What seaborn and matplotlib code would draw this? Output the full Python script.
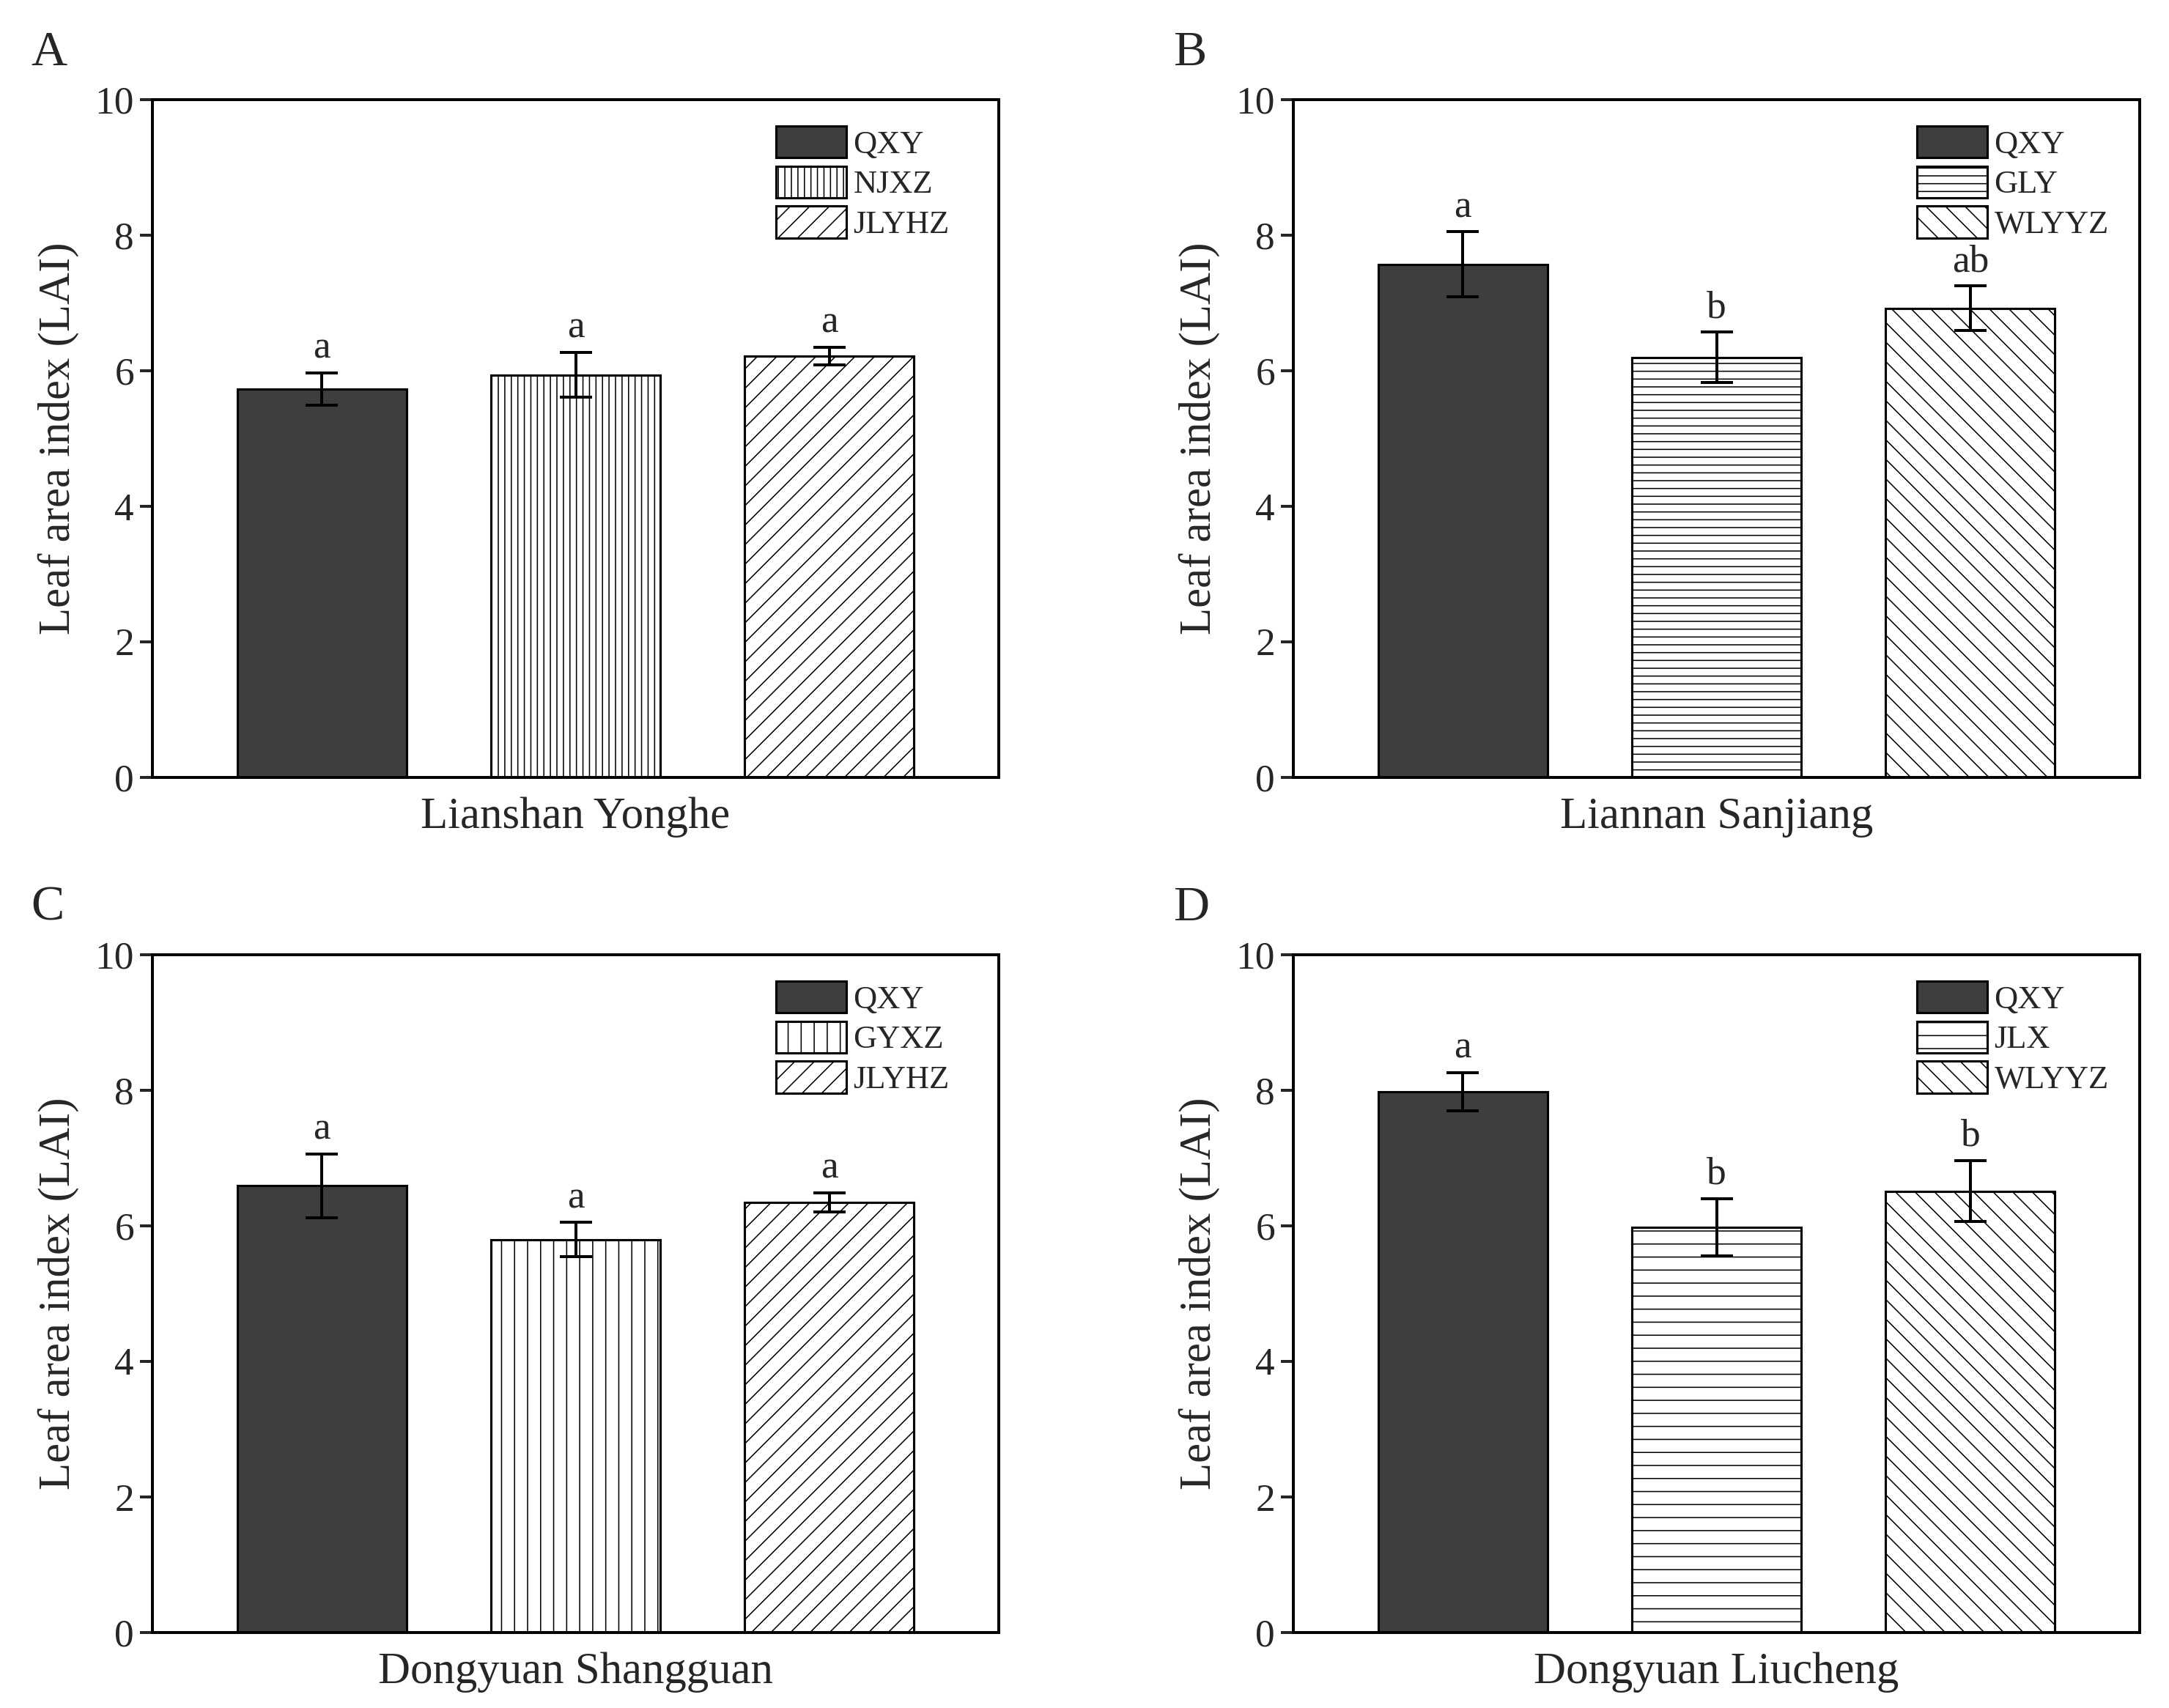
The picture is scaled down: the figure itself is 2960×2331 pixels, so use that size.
import numpy as np
import pandas as pd
import matplotlib
matplotlib.use("Agg")
import matplotlib.pyplot as plt
import seaborn as sns

# ---------------- data ----------------
sites = ["Lianshan Yonghe", "Liannan Sanjiang", "Dongyuan Shangguan", "Dongyuan Liucheng"]
panel_letters = ["A", "B", "C", "D"]

cultivars_A = ["QXY", "NJXZ", "JLYHZ"]
lai_A = [5.73, 5.94, 6.22]
err_A = [0.24, 0.33, 0.13]
sig_A = ["a", "a", "a"]

cultivars_B = ["QXY", "GLY", "WLYYZ"]
lai_B = [7.57, 6.20, 6.92]
err_B = [0.48, 0.37, 0.33]
sig_B = ["a", "b", "ab"]

cultivars_C = ["QXY", "GYXZ", "JLYHZ"]
lai_C = [6.59, 5.80, 6.35]
err_C = [0.47, 0.25, 0.14]
sig_C = ["a", "a", "a"]

cultivars_D = ["QXY", "JLX", "WLYYZ"]
lai_D = [7.98, 5.98, 6.51]
err_D = [0.28, 0.42, 0.45]
sig_D = ["a", "b", "b"]

y_ticks = [0, 2, 4, 6, 8, 10]
y_label = "Leaf area index (LAI)"

# ---------------- style ----------------
sns.set_theme(style="white")
plt.rcParams["font.family"] = ["Liberation Serif", "DejaVu Serif"]
plt.rcParams["hatch.linewidth"] = 0.35
plt.rcParams["axes.linewidth"] = 0.9

hatch_map = {"QXY": "", "NJXZ": "||||||", "JLYHZ": "////", "GLY": "-----",
             "WLYYZ": "\\\\\\\\", "GYXZ": "|||", "JLX": "---"}
face_map = {"QXY": "#3e3e3e"}

DPI = 320
fig = plt.figure(figsize=(2960 / DPI, 2331 / DPI), dpi=DPI)
fig.patch.set_facecolor("white")

lefts = [208 / 2960, 1765 / 2960]
bottoms = [1 - 1061 / 2331, 1 - 2228 / 2331]
w = 1155 / 2960
h = 925 / 2331
letter_pos = [(42, 89), (1601, 89), (42, 1256), (1601, 1256)]

panels = [
    (cultivars_A, lai_A, err_A, sig_A),
    (cultivars_B, lai_B, err_B, sig_B),
    (cultivars_C, lai_C, err_C, sig_C),
    (cultivars_D, lai_D, err_D, sig_D),
]

for i, (cults, vals, errs, sigs) in enumerate(panels):
    r, c = divmod(i, 2)
    ax = fig.add_axes([lefts[c], bottoms[r], w, h])
    df = pd.DataFrame({"cultivar": cults, "lai": vals})
    palette = {k: face_map.get(k, "white") for k in cults}
    sns.barplot(data=df, x="cultivar", y="lai", hue="cultivar", order=cults,
                hue_order=cults, palette=palette, width=0.667, dodge=False,
                edgecolor="black", linewidth=0.7, errorbar=None, legend=False,
                saturation=1, ax=ax)
    bars = list(ax.patches)
    for bar, k in zip(bars, cults):
        bar.set_hatch(hatch_map[k])
        bar.set_edgecolor("black")
    pos = np.arange(len(cults))
    ax.errorbar(pos, vals, yerr=errs, fmt="none", ecolor="black",
                elinewidth=0.9, capsize=5, capthick=0.9, zorder=5)
    for x, v, e, s in zip(pos, vals, errs, sigs):
        ax.text(x, v + e + 0.1, s, ha="center", va="bottom", fontsize=12)

    ax.set_xlim(-0.667, 2.667)
    ax.set_ylim(0, 10)
    ax.set_yticks(y_ticks)
    ax.set_yticklabels([str(t) for t in y_ticks])
    ax.tick_params(axis="y", direction="out", length=3.8, width=0.9,
                   pad=1.8, labelsize=12, left=True)
    ax.tick_params(axis="x", length=0, labelbottom=False)
    for sp in ax.spines.values():
        sp.set_visible(True)
        sp.set_color("black")
        sp.set_linewidth(0.9)
    ax.set_ylabel(y_label, fontsize=13.7, labelpad=5)
    ax.set_xlabel(sites[i], fontsize=13.7, labelpad=6)

    leg = ax.legend(handles=bars, labels=cults, loc="upper left",
                    bbox_to_anchor=(0.737, 0.961), frameon=False,
                    fontsize=10, handlelength=2.15, handleheight=1.12,
                    labelspacing=0.2, handletextpad=0.22, borderpad=0,
                    borderaxespad=0)

    lx, ly = letter_pos[i]
    fig.text(lx / 2960, 1 - ly / 2331, panel_letters[i], fontsize=15.3,
             ha="left", va="baseline")

fig.savefig("out.png", dpi=DPI, facecolor="white")
